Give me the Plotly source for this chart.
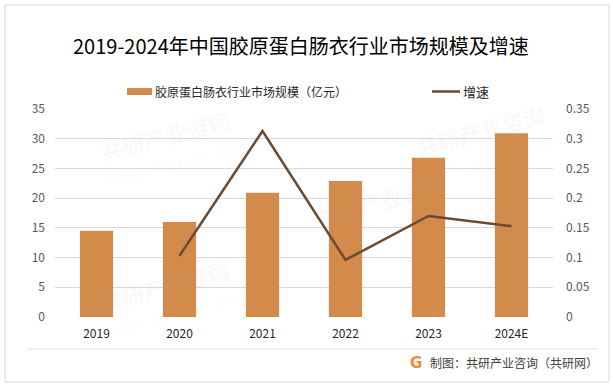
import plotly.graph_objects as go

years = ["2019", "2020", "2021", "2022", "2023", "2024E"]
market_size = [14.5, 16.0, 20.9, 22.9, 26.8, 30.9]
growth = [None, 0.103, 0.313, 0.096, 0.170, 0.153]

bar_name = "胶原蛋白肠衣行业市场规模（亿元）"
line_name = "增速"
title_text = "2019-2024年中国胶原蛋白肠衣行业市场规模及增速"
credit_text = "制图：共研产业咨询（共研网）"
wm_cn = "共研产业咨询"
wm_url = "w w w . g o n y n . c o m"

BAR_COLOR = "#D38B4C"
LINE_COLOR = "#6A4A30"
FONT = "Noto Sans CJK SC"

# plot area in pixels
L, R, T, B = 55, 60, 109, 73
W, H = 613, 390
PW, PH = W - L - R, H - T - B


def px(x):
    return (x - L) / PW


def py(y):
    return (H - B - y) / PH


fig = go.Figure()
fig.add_trace(go.Bar(
    x=years, y=market_size, name=bar_name,
    marker=dict(color=BAR_COLOR, line=dict(width=0)),
    width=0.4, yaxis="y",
))
fig.add_trace(go.Scatter(
    x=years, y=growth, name=line_name, mode="lines",
    line=dict(color=LINE_COLOR, width=2.5),
    yaxis="y2", connectgaps=False,
))

shapes = [
    # outer frame
    dict(type="rect", xref="paper", yref="paper",
         x0=px(5), x1=px(609), y0=py(382), y1=py(5),
         line=dict(color="#D9D9D9", width=1), fillcolor="rgba(0,0,0,0)", layer="below"),
    # separator above credit
    dict(type="line", xref="paper", yref="paper",
         x0=px(27), x1=px(598), y0=py(349), y1=py(349),
         line=dict(color="#E3E3E3", width=1)),
    # legend swatches
    dict(type="rect", xref="paper", yref="paper",
         x0=px(127), x1=px(152), y0=py(95), y1=py(88),
         line=dict(width=0), fillcolor=BAR_COLOR),
    dict(type="line", xref="paper", yref="paper",
         x0=px(432), x1=px(460), y0=py(91.5), y1=py(91.5),
         line=dict(color=LINE_COLOR, width=2.5)),
]

annotations = []

# faint watermarks (kept inside the canvas)
wm_spots = [(165, 135), (380, 200), (165, 285), (480, 130)]
for (wx, wy) in wm_spots:
    annotations.append(dict(text="<b>" + wm_cn + "</b>", xref="paper", yref="paper",
                            x=px(wx), y=py(wy), xanchor="center", yanchor="middle",
                            showarrow=False, textangle=-15,
                            font=dict(family=FONT, size=22, color="rgba(160,160,160,0.08)")))
    annotations.append(dict(text=wm_url, xref="paper", yref="paper",
                            x=px(wx + 15), y=py(wy + 28), xanchor="center", yanchor="middle",
                            showarrow=False, textangle=-15,
                            font=dict(family="DejaVu Sans", size=12, color="rgba(160,160,160,0.08)")))

annotations += [
    dict(text=title_text, xref="paper", yref="paper", x=px(301), y=py(46),
         xanchor="center", yanchor="middle", showarrow=False,
         font=dict(family=FONT, size=20, color="#000000")),
    dict(text=bar_name, xref="paper", yref="paper", x=px(153), y=py(91),
         xanchor="left", yanchor="middle", showarrow=False,
         font=dict(family=FONT, size=12, color="#262626")),
    dict(text=line_name, xref="paper", yref="paper", x=px(461), y=py(91),
         xanchor="left", yanchor="middle", showarrow=False,
         font=dict(family=FONT, size=13, color="#262626")),
    dict(text=credit_text, xref="paper", yref="paper", x=px(428), y=py(362),
         xanchor="left", yanchor="middle", showarrow=False,
         font=dict(family=FONT, size=12, color="#404040")),
    dict(text="<b>G</b>", xref="paper", yref="paper", x=px(416), y=py(363),
         xanchor="center", yanchor="middle", showarrow=False,
         font=dict(family="DejaVu Sans", size=15, color="#F0893A")),
]

fig.update_layout(
    width=W, height=H,
    margin=dict(l=L, r=R, t=T, b=B, pad=0, autoexpand=False),
    paper_bgcolor="white", plot_bgcolor="white",
    font=dict(family=FONT, size=12, color="#595959"),
    showlegend=False,
    xaxis=dict(type="category", showgrid=False, showline=False, zeroline=False,
               ticks="", tickfont=dict(family=FONT, size=12, color="#262626"),
               ticklabelstandoff=8, automargin=False),
    yaxis=dict(range=[0, 35], dtick=5, showgrid=True, gridcolor="#D9D9D9", gridwidth=1,
               zeroline=False, showline=False, ticks="",
               tickfont=dict(family=FONT, size=12, color="#595959"),
               ticklabelstandoff=9, automargin=False),
    yaxis2=dict(range=[0, 0.35], dtick=0.05, overlaying="y", side="right",
                showgrid=False, zeroline=False, showline=False, ticks="",
                tickformat="~g",
                tickfont=dict(family=FONT, size=12, color="#595959"),
                ticklabelstandoff=12, automargin=False),
    shapes=shapes,
    annotations=annotations,
)

fig.write_html("out.html", config={"displayModeBar": False},
               post_script=["document.body.style.margin='0';"])
